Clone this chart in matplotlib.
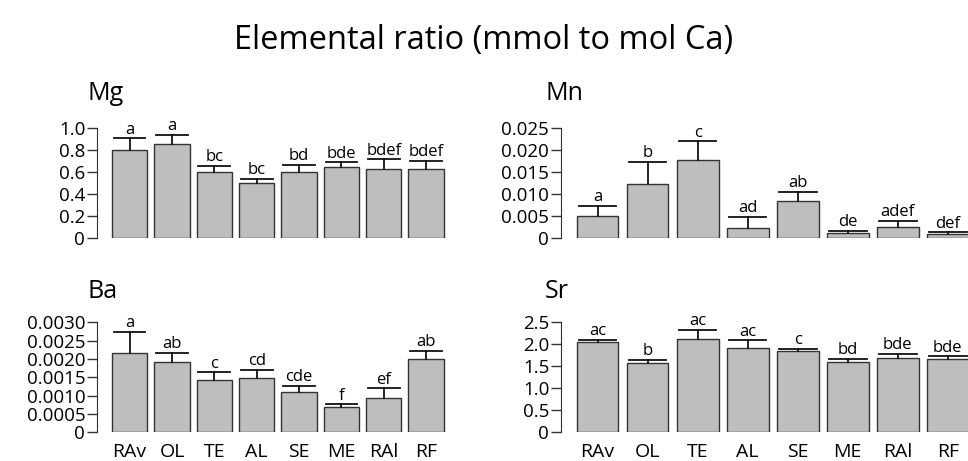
import matplotlib.pyplot as plt
import numpy as np

plt.rcParams['font.family'] = ['Open Sans', 'DejaVu Sans']

sites = ['RAv', 'OL', 'TE', 'AL', 'SE', 'ME', 'RAl', 'RF']

# mean and mean + error for each element
mg_mean = [0.80, 0.855, 0.597, 0.497, 0.603, 0.643, 0.630, 0.624]
mg_upper = [0.906, 0.936, 0.657, 0.536, 0.664, 0.688, 0.715, 0.700]
mg_letters = ['a', 'a', 'bc', 'bc', 'bd', 'bde', 'bdef', 'bdef']

mn_mean = [0.00509, 0.01223, 0.0178, 0.00225, 0.0084, 0.00113, 0.00248, 0.00097]
mn_upper = [0.00734, 0.01725, 0.02198, 0.00487, 0.0105, 0.00165, 0.00396, 0.00126]
mn_letters = ['a', 'b', 'c', 'ad', 'ab', 'de', 'adef', 'def']

ba_mean = [0.002155, 0.001925, 0.001426, 0.001473, 0.001107, 0.000682, 0.000927, 0.00199]
ba_upper = [0.002744, 0.002171, 0.001636, 0.0017, 0.001263, 0.000764, 0.0012, 0.002225]
ba_letters = ['a', 'ab', 'c', 'cd', 'cde', 'f', 'ef', 'ab']

sr_mean = [2.048, 1.573, 2.125, 1.92, 1.853, 1.596, 1.68, 1.673]
sr_upper = [2.10, 1.65, 2.33, 2.087, 1.899, 1.664, 1.786, 1.725]
sr_letters = ['ac', 'b', 'ac', 'ac', 'c', 'bd', 'bde', 'bde']

mg_ticks = [0, 0.2, 0.4, 0.6, 0.8, 1.0]
mg_ticklabels = ['0', '0.2', '0.4', '0.6', '0.8', '1.0']
mn_ticks = [0, 0.005, 0.010, 0.015, 0.020, 0.025]
mn_ticklabels = ['0', '0.005', '0.010', '0.015', '0.020', '0.025']
ba_ticks = [0, 0.0005, 0.0010, 0.0015, 0.0020, 0.0025, 0.0030]
ba_ticklabels = ['0', '0.0005', '0.0010', '0.0015', '0.0020', '0.0025', '0.0030']
sr_ticks = [0, 0.5, 1.0, 1.5, 2.0, 2.5]
sr_ticklabels = ['0', '0.5', '1.0', '1.5', '2.0', '2.5']

W, H = 968, 461
fig = plt.figure(figsize=(W / 100, H / 100), dpi=100)

# R barplot style positions: width 1, space 0.2
x = 0.7 + 1.2 * np.arange(len(sites))


def panel(px_left, px_scale, px_bottom, mean, upper, letters, ticks, ticklabels,
          show_x, spine_off):
    ax = fig.add_axes([px_left / W, (H - px_bottom) / H, 9.8 * px_scale / W, 110 / H])
    # spine position first: moving it resets the ticks
    for s in ['top', 'right', 'bottom']:
        ax.spines[s].set_visible(False)
    ax.spines['left'].set_position(('outward', spine_off))
    ax.spines['left'].set_bounds(0, ticks[-1])
    ax.spines['left'].set_color('#333333')

    ax.bar(x, mean, width=1.0, color='#bebebe', edgecolor='#333333', linewidth=1.0)
    cap = 0.45
    for xi, m, u, lab in zip(x, mean, upper, letters):
        ax.plot([xi, xi], [m, u], color='#111111', lw=1.3, clip_on=False)
        ax.plot([xi - cap, xi + cap], [u, u], color='#111111', lw=1.3, clip_on=False)
        ax.annotate(lab, (xi, u), xytext=(0, 0.5), textcoords='offset points',
                    ha='center', va='bottom', fontsize=12, annotation_clip=False)
    ax.set_xlim(0, 9.8)
    ax.set_ylim(0, ticks[-1])
    ax.set_yticks(ticks)
    ax.set_yticklabels(ticklabels, fontsize=13.5)
    ax.tick_params(axis='y', length=7, width=1, pad=1.5, color='#333333')
    if show_x:
        ax.set_xticks(x)
        ax.set_xticklabels(sites, fontsize=14)
        ax.tick_params(axis='x', length=0, pad=8)
    else:
        ax.set_xticks([])
    ax.patch.set_visible(False)
    return ax


panel(104.9, 35.3, 238, mg_mean, mg_upper, mg_letters, mg_ticks, mg_ticklabels, False, 5.7)
panel(568.4, 41.7, 238, mn_mean, mn_upper, mn_letters, mn_ticks, mn_ticklabels, False, 5.3)
panel(104.9, 35.3, 432.3, ba_mean, ba_upper, ba_letters, ba_ticks, ba_ticklabels, True, 5.7)
panel(568.4, 41.7, 432.3, sr_mean, sr_upper, sr_letters, sr_ticks, sr_ticklabels, True, 5.3)

fig.text(484 / W, 1 - 40 / H, 'Elemental ratio (mmol to mol Ca)', ha='center', va='center', fontsize=23.5)
fig.text(87 / W, 1 - 94 / H, 'Mg', ha='left', va='center', fontsize=18)
fig.text(545 / W, 1 - 94 / H, 'Mn', ha='left', va='center', fontsize=18)
fig.text(87 / W, 1 - 291 / H, 'Ba', ha='left', va='center', fontsize=18)
fig.text(545 / W, 1 - 291 / H, 'Sr', ha='left', va='center', fontsize=18)

fig.savefig('out.png', dpi=100)
